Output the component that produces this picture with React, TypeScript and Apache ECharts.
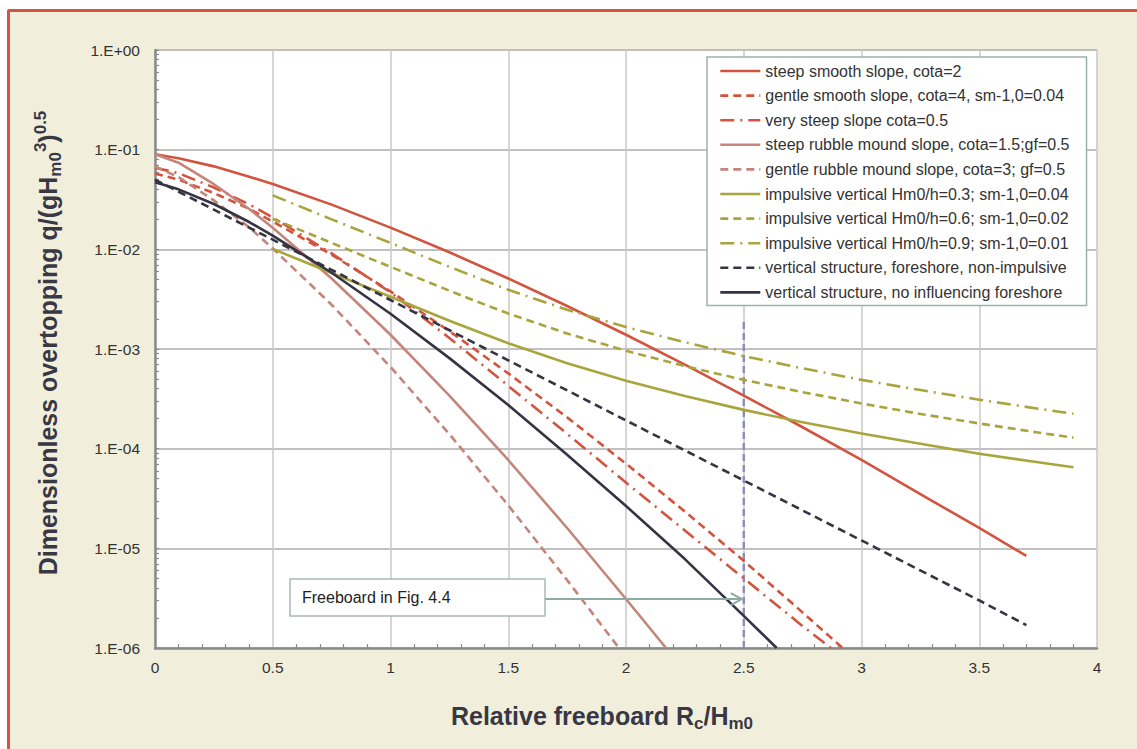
import React, { useEffect, useRef } from "react";
import * as echarts from "echarts";

const FONT = '"Liberation Sans", Arial, Helvetica, sans-serif';

// ---------- data ----------
const seriesNames = [
  "steep smooth slope, cota=2",
  "gentle smooth slope, cota=4, sm-1,0=0.04",
  "very steep slope cota=0.5",
  "steep rubble mound slope, cota=1.5;gf=0.5",
  "gentle rubble mound slope, cota=3; gf=0.5",
  "impulsive vertical Hm0/h=0.3; sm-1,0=0.04",
  "impulsive vertical Hm0/h=0.6; sm-1,0=0.02",
  "impulsive vertical Hm0/h=0.9; sm-1,0=0.01",
  "vertical structure, foreshore, non-impulsive",
  "vertical structure, no influencing foreshore",
];

const xSteepSmooth = [0, 0.1, 0.25, 0.4, 0.5, 0.75, 1, 1.25, 1.5, 1.75, 2, 2.25, 2.5, 2.75, 3, 3.25, 3.5, 3.7];
const qSteepSmooth = [0.09, 0.082, 0.068, 0.0535, 0.0452, 0.0281, 0.0165, 0.00935, 0.0051, 0.0027, 0.00139, 0.000697, 0.000341, 0.000164, 0.000077, 0.000035, 0.000016, 0.0000084];

const xGentleSmooth = [0, 0.1, 0.25, 0.4, 0.5, 0.75, 1, 1.25, 1.5, 1.75, 2, 2.25, 2.5, 2.75, 2.92];
const qGentleSmooth = [0.0575, 0.05, 0.0367, 0.0255, 0.019, 0.00884, 0.00378, 0.00151, 0.00057, 0.000206, 0.0000707, 0.0000234, 0.0000075, 0.00000227, 0.000001];

const xVerySteep = [0, 0.1, 0.25, 0.4, 0.5, 0.75, 1, 1.25, 1.5, 1.75, 2, 2.25, 2.5, 2.75, 2.87];
const qVerySteep = [0.066, 0.058, 0.0417, 0.0283, 0.0209, 0.0091, 0.0037, 0.00129, 0.000427, 0.000141, 0.0000457, 0.0000151, 0.000005, 0.00000166, 0.000001];

const xRubbleSteep = [0, 0.1, 0.25, 0.4, 0.5, 0.75, 1, 1.25, 1.5, 1.75, 2, 2.17];
const qRubbleSteep = [0.09, 0.074, 0.045, 0.0254, 0.0165, 0.0051, 0.00139, 0.00034, 0.000077, 0.000016, 0.0000031, 0.000001];

const xRubbleGentle = [0, 0.1, 0.25, 0.4, 0.5, 0.75, 1, 1.25, 1.5, 1.75, 1.97];
const qRubbleGentle = [0.068, 0.053, 0.031, 0.0166, 0.0102, 0.00278, 0.00066, 0.00014, 0.000027, 0.0000048, 0.000001];

const xImpulsive = [0.5, 0.75, 1, 1.25, 1.35, 1.5, 1.75, 2, 2.25, 2.5, 2.75, 3, 3.25, 3.5, 3.75, 3.9];
const qImpulsive03 = [0.0101, 0.00578, 0.00334, 0.00192, 0.00156, 0.00114, 0.00072, 0.00048, 0.000337, 0.000245, 0.000184, 0.000142, 0.000112, 0.000089, 0.000073, 0.000065];
const qImpulsive06 = [0.0203, 0.0116, 0.00667, 0.00385, 0.0031, 0.00227, 0.00143, 0.00096, 0.000673, 0.00049, 0.000369, 0.000284, 0.000223, 0.000179, 0.000145, 0.000129];
const qImpulsive09 = [0.0348, 0.02, 0.0116, 0.00667, 0.0054, 0.00393, 0.00248, 0.00166, 0.00117, 0.00085, 0.00064, 0.00049, 0.000387, 0.00031, 0.000252, 0.000224];

const xVertForeshore = [0, 0.5, 1, 1.5, 2, 2.5, 3, 3.5, 3.7];
const qVertForeshore = [0.05, 0.0125, 0.0031, 0.00077, 0.000192, 0.000048, 0.000012, 0.000003, 0.0000017];

const xVertNoForeshore = [0, 0.1, 0.25, 0.4, 0.5, 0.75, 1, 1.25, 1.5, 1.75, 2, 2.25, 2.5, 2.64];
const qVertNoForeshore = [0.047, 0.04, 0.0285, 0.0188, 0.0137, 0.00582, 0.00226, 0.00081, 0.000274, 0.000087, 0.0000266, 0.0000078, 0.0000021, 0.000001];

const seriesX = [xSteepSmooth, xGentleSmooth, xVerySteep, xRubbleSteep, xRubbleGentle, xImpulsive, xImpulsive, xImpulsive, xVertForeshore, xVertNoForeshore];
const seriesQ = [qSteepSmooth, qGentleSmooth, qVerySteep, qRubbleSteep, qRubbleGentle, qImpulsive03, qImpulsive06, qImpulsive09, qVertForeshore, qVertNoForeshore];

// freeboard marker (Fig. 4.4)
const freeboardX = [2.5, 2.5];
const freeboardQ = [0.000001, 0.002];
const annotationText = "Freeboard in Fig. 4.4";
const annotationQ = 0.0000031;

const yTickExponents = [-6, -5, -4, -3, -2, -1, 0];
const yTickLabels = ["1.E-06", "1.E-05", "1.E-04", "1.E-03", "1.E-02", "1.E-01", "1.E+00"];

// ---------- styles ----------
const RED = "#D2543F";
const PINK = "#C4857B";
const OLIVE = "#A9A43C";
const DARK = "#343442";
const DASH = [8, 5];
const DASHDOT = [14, 6, 2, 6];
const seriesStyles: any[] = [
  { color: RED, type: "solid" },
  { color: RED, type: DASH },
  { color: RED, type: DASHDOT },
  { color: PINK, type: "solid" },
  { color: PINK, type: DASH },
  { color: OLIVE, type: "solid" },
  { color: OLIVE, type: DASH },
  { color: OLIVE, type: DASHDOT },
  { color: DARK, type: DASH },
  { color: DARK, type: "solid" },
];

export default function App() {
  const ref = useRef<HTMLDivElement>(null);

  useEffect(() => {
    if (!ref.current) return;
    const chart = echarts.init(ref.current, null, { renderer: "svg" });

    const series: any[] = seriesNames.map((name, i) => ({
      type: "line",
      name,
      data: seriesX[i].map((x, j) => [x, seriesQ[i][j]]),
      symbol: "none",
      showSymbol: false,
      smooth: false,
      lineStyle: { color: seriesStyles[i].color, width: 2.6, type: seriesStyles[i].type, cap: "butt", join: "round" },
      itemStyle: { color: seriesStyles[i].color },
      z: 3,
    }));

    series.push({
      type: "line",
      name: "freeboard",
      data: freeboardX.map((x, j) => [x, freeboardQ[j]]),
      symbol: "none",
      showSymbol: false,
      lineStyle: { color: "#8C8CB4", width: 2.4, type: [7, 4] },
      itemStyle: { color: "#8C8CB4" },
      z: 2,
    });

    const option: any = {
      animation: false,
      backgroundColor: "transparent",
      textStyle: { fontFamily: FONT },
      grid: {
        left: 155,
        top: 50,
        width: 942,
        height: 598,
        show: true,
        backgroundColor: "#ffffff",
        borderWidth: 0,
      },
      xAxis: {
        type: "value",
        min: 0,
        max: 4,
        interval: 0.5,
        axisLine: { show: true, onZero: false, lineStyle: { color: "#8a8a8a", width: 2.5 } },
        axisTick: { show: false, inside: true },
        minorTick: { show: true, splitNumber: 5, length: 4, lineStyle: { color: "#8a8a8a", width: 1.2 } },
        splitLine: { show: true, lineStyle: { color: "#c8c8c8", width: 1.5 } },
        minorSplitLine: { show: false },
        axisLabel: { color: "#333333", fontSize: 15.5, margin: 11, fontFamily: FONT },
      },
      yAxis: {
        type: "log",
        logBase: 10,
        min: 0.000001,
        max: 1,
        splitNumber: 6,
        axisLine: { show: true, onZero: false, lineStyle: { color: "#8a8a8a", width: 2.5 } },
        axisTick: { show: true, inside: true, length: 4, lineStyle: { color: "#8a8a8a", width: 1.2 } },
        minorTick: { show: true, splitNumber: 9, length: 4, lineStyle: { color: "#8a8a8a", width: 1.2 } },
        splitLine: { show: true, lineStyle: { color: "#adadad", width: 1.5 } },
        minorSplitLine: { show: false },
        axisLabel: {
          color: "#333333",
          fontSize: 15.5,
          margin: 15,
          fontFamily: FONT,
          formatter: (v: number) => {
            const e = Math.round(Math.log10(v));
            const k = yTickExponents.indexOf(e);
            return k >= 0 ? yTickLabels[k] : "";
          },
        },
      },
      legend: {
        show: true,
        orient: "vertical",
        left: 707,
        top: 57,
        padding: [6, 17, 5, 12],
        itemWidth: 40,
        itemHeight: 14,
        itemGap: 8.6,
        backgroundColor: "#ffffff",
        borderColor: "#9fb1ab",
        borderWidth: 1.5,
        borderRadius: 0,
        data: seriesNames,
        itemStyle: { opacity: 0 },
        lineStyle: { width: 2.6 },
        textStyle: { fontSize: 16, color: "#333333", fontFamily: FONT },
      },
      series,
    };

    chart.setOption(option);

    const tip = chart.convertToPixel({ gridIndex: 0 }, [freeboardX[0], annotationQ]) as number[];
    const tipX = tip[0] - 2;
    const tipY = tip[1];
    const boxLeft = 290;
    const boxRight = 545;
    const boxTop = tipY - 20;
    const boxH = 37;
    const arrowColor = "#8FAAA1";
    const titleColor = "#383844";

    chart.setOption({
      graphic: [
        {
          type: "rect",
          shape: { x: boxLeft, y: boxTop, width: boxRight - boxLeft, height: boxH },
          style: { fill: "#ffffff", stroke: "#A8BAB4", lineWidth: 1.5 },
          z: 10,
        },
        {
          type: "text",
          x: boxLeft + 12,
          y: boxTop + boxH / 2,
          style: { text: annotationText, fill: "#222222", font: `16px ${FONT}`, align: "left", verticalAlign: "middle" },
          z: 11,
        },
        {
          type: "line",
          shape: { x1: boxRight, y1: tipY, x2: tipX, y2: tipY },
          style: { stroke: arrowColor, lineWidth: 2 },
          z: 10,
        },
        {
          type: "polyline",
          shape: { points: [[tipX - 11, tipY - 6], [tipX, tipY], [tipX - 11, tipY + 6]] },
          style: { stroke: arrowColor, lineWidth: 2, fill: "none" },
          z: 10,
        },
        {
          type: "text",
          x: 602,
          y: 716,
          style: {
            text: "Relative freeboard R{sub|c}/H{sub|m0}",
            fill: titleColor,
            font: `bold 25px ${FONT}`,
            align: "center",
            verticalAlign: "middle",
            lineHeight: 32,
            rich: {
              sub: { fontSize: 17, fontWeight: "bold", fontFamily: FONT, fill: titleColor, verticalAlign: "bottom", lineHeight: 17 },
            },
          },
          z: 10,
        },
        {
          type: "text",
          x: 48,
          y: 343,
          rotation: Math.PI / 2,
          style: {
            text: "Dimensionless overtopping q/(gH{sub|m0}{sup|3}){sup|0.5}",
            fill: titleColor,
            font: `bold 25px ${FONT}`,
            align: "center",
            verticalAlign: "middle",
            lineHeight: 32,
            rich: {
              sub: { fontSize: 17, fontWeight: "bold", fontFamily: FONT, fill: titleColor, verticalAlign: "bottom", lineHeight: 17 },
              sup: { fontSize: 17, fontWeight: "bold", fontFamily: FONT, fill: titleColor, verticalAlign: "top", lineHeight: 17 },
            },
          },
          z: 10,
        },
      ],
    });

    return () => chart.dispose();
  }, []);

  return (
    <div style={{ position: "fixed", left: 0, top: 0, width: 1137, height: 749, background: "#ffffff", overflow: "hidden" }}>
      <div
        style={{
          position: "absolute",
          left: 7,
          top: 9,
          right: -10,
          bottom: -10,
          background: "#F1EFDC",
          borderLeft: "3px solid #D3553F",
          borderTop: "3px solid #D3553F",
          borderTopLeftRadius: 3,
        }}
      />
      <div ref={ref} style={{ position: "absolute", left: 0, top: 0, width: 1137, height: 749 }} />
    </div>
  );
}
